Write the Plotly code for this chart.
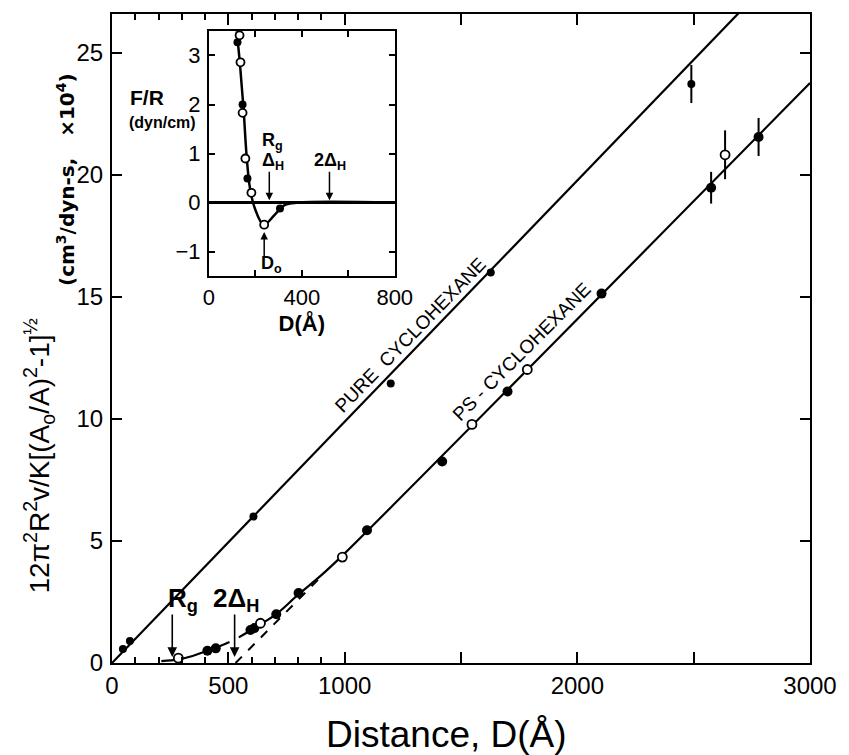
import plotly.graph_objects as go

# ---------------- main panel data ----------------
pure_D = [47, 77, 608, 1198, 1628, 2490]
pure_V = [0.57, 0.9, 6.0, 11.46, 16.0, 23.73]
pure_err = [0, 0, 0, 0, 0, 0.78]

ps_filled_D = [410, 446, 595, 612, 706, 802, 1096, 1419, 1700, 2104, 2575, 2779]
ps_filled_V = [0.5, 0.6, 1.35, 1.43, 2.0, 2.87, 5.44, 8.26, 11.13, 15.14, 19.48, 21.56]
ps_filled_err = [0, 0, 0, 0, 0, 0, 0, 0, 0, 0, 0.65, 0.78]

ps_open_D = [285, 638, 990, 1547, 1785, 2635]
ps_open_V = [0.2, 1.63, 4.34, 9.78, 12.03, 20.83]
ps_open_err = [0, 0, 0, 0, 0, 1.0]

pure_fit_D = [0, 2720]
pure_fit_V = [0, 26.9]

ps_fit_low_D = [212, 285, 350, 410, 446, 505]
ps_fit_low_V = [0.08, 0.15, 0.3, 0.5, 0.62, 0.86]
ps_fit_high_D = [545, 600, 650, 706, 800, 900, 990, 3000]
ps_fit_high_V = [1.05, 1.35, 1.65, 2.0, 2.8, 3.6, 4.4, 23.77]

ps_dash_D = [531, 900]
ps_dash_V = [0, 3.55]

x_tickvals = [0, 500, 1000, 1500, 2000, 2500, 3000]
x_ticktext = ["0", "500", "1000", "", "2000", "", "3000"]
x_minor = [100, 200, 300, 400, 600, 700, 800, 900]
y_tickvals = [0, 5, 10, 15, 20, 25]

# ---------------- inset data ----------------
in_filled_D = [123, 145, 166, 306]
in_filled_F = [3.27, 2.0, 0.49, -0.12]
in_open_D = [132, 136, 145, 157, 183, 238]
in_open_F = [3.41, 2.86, 1.83, 0.9, 0.2, -0.45]
in_curve_D = [120, 134, 149, 163, 177, 198, 236, 283, 326, 383, 800]
in_curve_F = [3.49, 2.81, 1.92, 0.91, 0.29, -0.12, -0.45, -0.25, -0.05, 0, 0]
in_x_tickvals = [0, 200, 400, 600, 800]
in_x_ticktext = ["0", "", "400", "", "800"]
in_y_tickvals = [-1, 0, 1, 2, 3]

BLACK = "black"
FONT = "Liberation Sans, Arial, sans-serif"
WIDE = "DejaVu Sans, Liberation Sans, sans-serif"

L, R, T, B = 112, 31, 12, 92
W, H = 849, 755
pw, ph = W - L - R, H - T - B
def px2paper(x, y):
    return (x - L) / pw, (H - B - y) / ph

fig = go.Figure()

# fitted lines
fig.add_trace(go.Scatter(x=pure_fit_D, y=pure_fit_V, mode="lines",
                         line=dict(color=BLACK, width=2.2), hoverinfo="skip"))
fig.add_trace(go.Scatter(x=ps_fit_low_D, y=ps_fit_low_V, mode="lines", line_shape="spline",
                         line=dict(color=BLACK, width=2.2), hoverinfo="skip"))
fig.add_trace(go.Scatter(x=ps_fit_high_D, y=ps_fit_high_V, mode="lines", line_shape="spline",
                         line=dict(color=BLACK, width=2.2), hoverinfo="skip"))
fig.add_trace(go.Scatter(x=ps_dash_D, y=ps_dash_V, mode="lines",
                         line=dict(color=BLACK, width=2, dash="dash"), hoverinfo="skip"))

# points
fig.add_trace(go.Scatter(x=pure_D, y=pure_V, mode="markers",
                         marker=dict(color=BLACK, size=8),
                         error_y=dict(type="data", array=pure_err, width=0, thickness=2, color=BLACK)))
fig.add_trace(go.Scatter(x=ps_filled_D, y=ps_filled_V, mode="markers",
                         marker=dict(color=BLACK, size=10),
                         error_y=dict(type="data", array=ps_filled_err, width=0, thickness=2, color=BLACK)))
fig.add_trace(go.Scatter(x=ps_open_D, y=ps_open_V, mode="markers",
                         marker=dict(color="white", size=9, line=dict(color=BLACK, width=1.8)),
                         error_y=dict(type="data", array=ps_open_err, width=0, thickness=2, color=BLACK)))

# inset
fig.add_trace(go.Scatter(x=in_curve_D, y=in_curve_F, mode="lines", line_shape="spline",
                         line=dict(color=BLACK, width=2.5), xaxis="x2", yaxis="y2", hoverinfo="skip"))
fig.add_trace(go.Scatter(x=in_filled_D, y=in_filled_F, mode="markers", xaxis="x2", yaxis="y2",
                         marker=dict(color=BLACK, size=8)))
fig.add_trace(go.Scatter(x=in_open_D, y=in_open_F, mode="markers", xaxis="x2", yaxis="y2",
                         marker=dict(color="white", size=8, line=dict(color=BLACK, width=1.8))))

def txt(x, y, text, size, xref="x", yref="y", angle=0, family=FONT):
    return dict(x=x, y=y, xref=xref, yref=yref, text=text, showarrow=False,
                xanchor="center", yanchor="middle", textangle=angle,
                font=dict(size=size, family=family, color=BLACK))

def arrow(x, y, xref, yref, ay, width=1.6, size=1.2):
    return dict(x=x, y=y, xref=xref, yref=yref, text="", showarrow=True, ax=0, ay=ay,
                arrowhead=2, arrowsize=size, arrowwidth=width, arrowcolor=BLACK)

ann = []
# main arrows and labels
ann.append(arrow(259, 0.25, "x", "y", -44))
ann.append(arrow(527, 0.25, "x", "y", -44))
ann.append(txt(306, 2.6, "<b>R<sub>g</sub></b>", 26))
ann.append(txt(531, 2.6, "<b>2Δ<sub>H</sub></b>", 26))
ann.append(txt(1285, 13.45, "PURE  CYCLOHEXANE", 19, angle=-45.8))
ann.append(txt(1762, 12.75, "PS - CYCLOHEXANE", 19, angle=-45))
# inset arrows and labels
ann.append(arrow(260, 0.05, "x2", "y2", -30, 1.5, 1))
ann.append(arrow(519, 0.05, "x2", "y2", -30, 1.5, 1))
ann.append(arrow(238, -0.6, "x2", "y2", 27, 1.5, 1))
ann.append(txt(275, 1.25, "<b>R<sub>g</sub></b>", 18, "x2", "y2"))
ann.append(txt(277, 0.84, "<b>Δ<sub>H</sub></b>", 18, "x2", "y2"))
ann.append(txt(523, 0.84, "<b>2Δ<sub>H</sub></b>", 18, "x2", "y2"))
ann.append(txt(268, -1.27, "<b>D<sub>o</sub></b>", 18, "x2", "y2"))
# inset y title
fx, fy = px2paper(147, 96)
ann.append(txt(fx, fy, "<b>F/R</b>", 21, "paper", "paper"))
fx, fy = px2paper(163, 121)
ann.append(txt(fx, fy, "<b>(dyn/cm)</b>", 16, "paper", "paper"))
# main y titles
fx, fy = px2paper(38, 455)
ann.append(txt(fx, fy,
               "12π<sup>2</sup>R<sup>2</sup>v/K[(A<sub>o</sub>/A)<sup>2</sup>-1]<sup>½</sup>",
               28, "paper", "paper", angle=-90))
fx, fy = px2paper(66, 178)
ann.append(txt(fx, fy, "<b>(cm<sup>3</sup>/dyn-s,   ×10<sup>4</sup>)</b>", 20, "paper", "paper",
               angle=-90, family=WIDE))
# main x title
fx, fy = px2paper(450, 735)
ann.append(txt(fx, fy, "Distance, D(Å)", 37, "paper", "paper"))

x0, y0 = px2paper(210, 275)
x1, y1 = px2paper(398, 29)

fig.update_layout(
    width=W, height=H,
    margin=dict(l=L, r=R, t=T, b=B),
    paper_bgcolor="white", plot_bgcolor="white",
    showlegend=False,
    font=dict(family=FONT, color=BLACK),
    annotations=ann,
    xaxis=dict(range=[0, 3000], tickvals=x_tickvals, ticktext=x_ticktext,
               ticks="inside", ticklen=11, tickwidth=1.8, tickcolor=BLACK,
               minor=dict(tickvals=x_minor, ticks="inside", ticklen=6, tickwidth=1.5, tickcolor=BLACK),
               showline=True, linecolor=BLACK, linewidth=2.2, mirror="ticks",
               showgrid=False, zeroline=False,
               tickfont=dict(size=24, family=FONT)),
    yaxis=dict(range=[0, 26.6], tickvals=y_tickvals,
               ticks="inside", ticklen=10, tickwidth=1.8, tickcolor=BLACK,
               showline=True, linecolor=BLACK, linewidth=2.2, mirror="ticks",
               showgrid=False, zeroline=False, ticklabelstandoff=2,
               tickfont=dict(size=24, family=FONT)),
    xaxis2=dict(domain=[x0, x1], anchor="y2", range=[0, 800],
                tickvals=in_x_tickvals, ticktext=in_x_ticktext,
                ticks="inside", ticklen=6, tickwidth=1.5, tickcolor=BLACK,
                showline=True, linecolor=BLACK, linewidth=2, mirror="ticks",
                showgrid=False, zeroline=False,
                tickfont=dict(size=22, family=FONT),
                title=dict(text="<b>D(Å)</b>", font=dict(size=22, family=FONT), standoff=0)),
    yaxis2=dict(domain=[y0, y1], anchor="x2", range=[-1.5, 3.5], tickvals=in_y_tickvals,
                ticks="inside", ticklen=6, tickwidth=1.5, tickcolor=BLACK,
                showline=True, linecolor=BLACK, linewidth=2, mirror="ticks",
                showgrid=False, zeroline=True, zerolinecolor=BLACK, zerolinewidth=2.5,
                ticklabelstandoff=2, tickfont=dict(size=22, family=FONT)),
)
fig.update_layout(xaxis2_tickprefix="<b>", xaxis2_ticksuffix="</b>",
                  yaxis2_tickprefix="<b>", yaxis2_ticksuffix="</b>")
fig.add_shape(type="rect", xref="paper", yref="paper", x0=x0, y0=y0, x1=x1, y1=y1,
              fillcolor="white", line=dict(width=0), layer="below")

fig.write_html("out.html", config={"displayModeBar": False},
               post_script="document.body.style.margin='0';")
